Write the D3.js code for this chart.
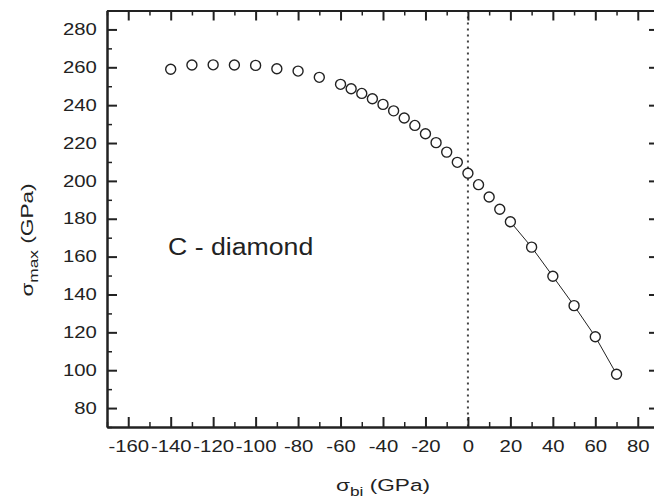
<!DOCTYPE html>
<html>
<head>
<meta charset="utf-8">
<script src="https://cdn.jsdelivr.net/npm/d3@7"></script>
<style>
    body { margin: 0; background: #fff; }
    svg { display: block; font-family: "Liberation Sans", Arial, sans-serif; }
</style>
</head>
<body>
<svg id="chart" width="654" height="500"></svg>
<script>
// measured points, sigma_bi vs sigma_max (GPa)
var sigmaBi = [-140, -130, -120, -110, -100, -90, -80, -70, -60, -55, -50, -45, -40, -35, -30,
    -25, -20, -15, -10, -5, 0, 5, 10, 15, 20, 30, 40, 50, 60, 70];
var sigmaMax = [259, 261.2, 261.3, 261.2, 261, 259.2, 258, 254.7, 251, 248.7, 246.2, 243.4, 240.4, 237, 233.2,
    229.3, 224.9, 220.2, 215.2, 209.8, 204, 198, 191.5, 185, 178.4, 165, 149.6, 134.1, 117.7, 97.9];

// the thin line only joins the last points
var lineBi = [20, 30, 40, 50, 60, 70];
var lineMax = [178.4, 165, 149.6, 134.1, 117.7, 97.9];

var xTicks = [-160, -140, -120, -100, -80, -60, -40, -20, 0, 20, 40, 60, 80];
var yTicks = [80, 100, 120, 140, 160, 180, 200, 220, 240, 260, 280];
var xMinor = d3.range(-170, 91, 10).filter(function (d) { return xTicks.indexOf(d) < 0; });
var yMinor = d3.range(70, 291, 10).filter(function (d) { return yTicks.indexOf(d) < 0; });

var ink = "#222";
var wide = 1.27; // the original lettering is wider than Arial
var svg = d3.select("#chart");

var x = d3.scaleLinear().domain([-170, 90]).range([107, 659]);
var y = d3.scaleLinear().domain([70, 290]).range([427, 10.5]);

// plain hyphen, not the unicode minus
var fmt = function (d) { return String(d); };

// dotted line at zero
svg.append("line")
    .attr("x1", x(0)).attr("x2", x(0))
    .attr("y1", y(290)).attr("y2", y(70))
    .attr("stroke", "#444")
    .attr("stroke-width", 2)
    .attr("stroke-dasharray", "2,4");

function styleAxis(g, w) {
    g.select(".domain").attr("stroke", ink).attr("stroke-width", 2);
    g.selectAll("line").attr("stroke", ink).attr("stroke-width", w);
    g.selectAll("text").attr("fill", ink).attr("font-size", 16)
        .attr("font-family", "'Liberation Sans', Arial, sans-serif")
        .attr("transform", "scale(" + wide + ",1)");
}

// bottom
svg.append("g").attr("transform", "translate(0," + y(70) + ")")
    .call(d3.axisBottom(x).tickValues(xMinor).tickSize(-5).tickSizeOuter(0).tickFormat(""))
    .call(styleAxis, 1.5);
svg.append("g").attr("transform", "translate(0," + y(70) + ")")
    .call(d3.axisBottom(x).tickValues(xTicks).tickSize(-10).tickSizeOuter(0).tickPadding(14).tickFormat(fmt))
    .call(styleAxis, 2);
// top
svg.append("g").attr("transform", "translate(0," + y(290) + ")")
    .call(d3.axisTop(x).tickValues(xMinor).tickSize(-5).tickSizeOuter(0).tickFormat(""))
    .call(styleAxis, 1.5);
svg.append("g").attr("transform", "translate(0," + y(290) + ")")
    .call(d3.axisTop(x).tickValues(xTicks).tickSize(-10).tickSizeOuter(0).tickFormat(""))
    .call(styleAxis, 2);
// left
svg.append("g").attr("transform", "translate(" + x(-170) + ",0)")
    .call(d3.axisLeft(y).tickValues(yMinor).tickSize(-5).tickSizeOuter(0).tickFormat(""))
    .call(styleAxis, 1.5);
svg.append("g").attr("transform", "translate(" + x(-170) + ",0)")
    .call(d3.axisLeft(y).tickValues(yTicks).tickSize(-10).tickSizeOuter(0).tickPadding(8).tickFormat(fmt))
    .call(styleAxis, 2);
// right
svg.append("g").attr("transform", "translate(" + x(90) + ",0)")
    .call(d3.axisRight(y).tickValues(yMinor).tickSize(-5).tickSizeOuter(0).tickFormat(""))
    .call(styleAxis, 1.5);
svg.append("g").attr("transform", "translate(" + x(90) + ",0)")
    .call(d3.axisRight(y).tickValues(yTicks).tickSize(-10).tickSizeOuter(0).tickFormat(""))
    .call(styleAxis, 2);

// connecting line
var line = d3.line()
    .x(function (d, i) { return x(lineBi[i]); })
    .y(function (d) { return y(d); });
svg.append("path")
    .datum(lineMax)
    .attr("d", line)
    .attr("fill", "none")
    .attr("stroke", ink)
    .attr("stroke-width", 1);

// open circles
svg.append("g").selectAll("circle")
    .data(sigmaMax)
    .enter().append("circle")
        .attr("cx", function (d, i) { return x(sigmaBi[i]); })
        .attr("cy", function (d) { return y(d); })
        .attr("r", 5)
        .attr("fill", "#fff")
        .attr("stroke", ink)
        .attr("stroke-width", 1.4);

// label inside the plot
svg.append("text")
    .attr("transform", "translate(168,255) scale(1.16,1)")
    .attr("font-size", 23)
    .attr("fill", ink)
    .text("C - diamond");

// x title
var xt = svg.append("text")
    .attr("transform", "translate(" + x(-40) + ",491) scale(1.33,1)")
    .attr("text-anchor", "middle")
    .attr("font-size", 17)
    .attr("fill", ink);
xt.append("tspan").text("σ");
xt.append("tspan").attr("font-size", 13).attr("dy", 5).text("bi");
xt.append("tspan").attr("dy", -5).text(" (GPa)");

// y title
var yt = svg.append("text")
    .attr("transform", "translate(33,240) rotate(-90) scale(1.33,1)")
    .attr("text-anchor", "middle")
    .attr("font-size", 17)
    .attr("fill", ink);
yt.append("tspan").text("σ");
yt.append("tspan").attr("font-size", 13).attr("dy", 5).text("max");
yt.append("tspan").attr("dy", -5).text(" (GPa)");
</script>
</body>
</html>
